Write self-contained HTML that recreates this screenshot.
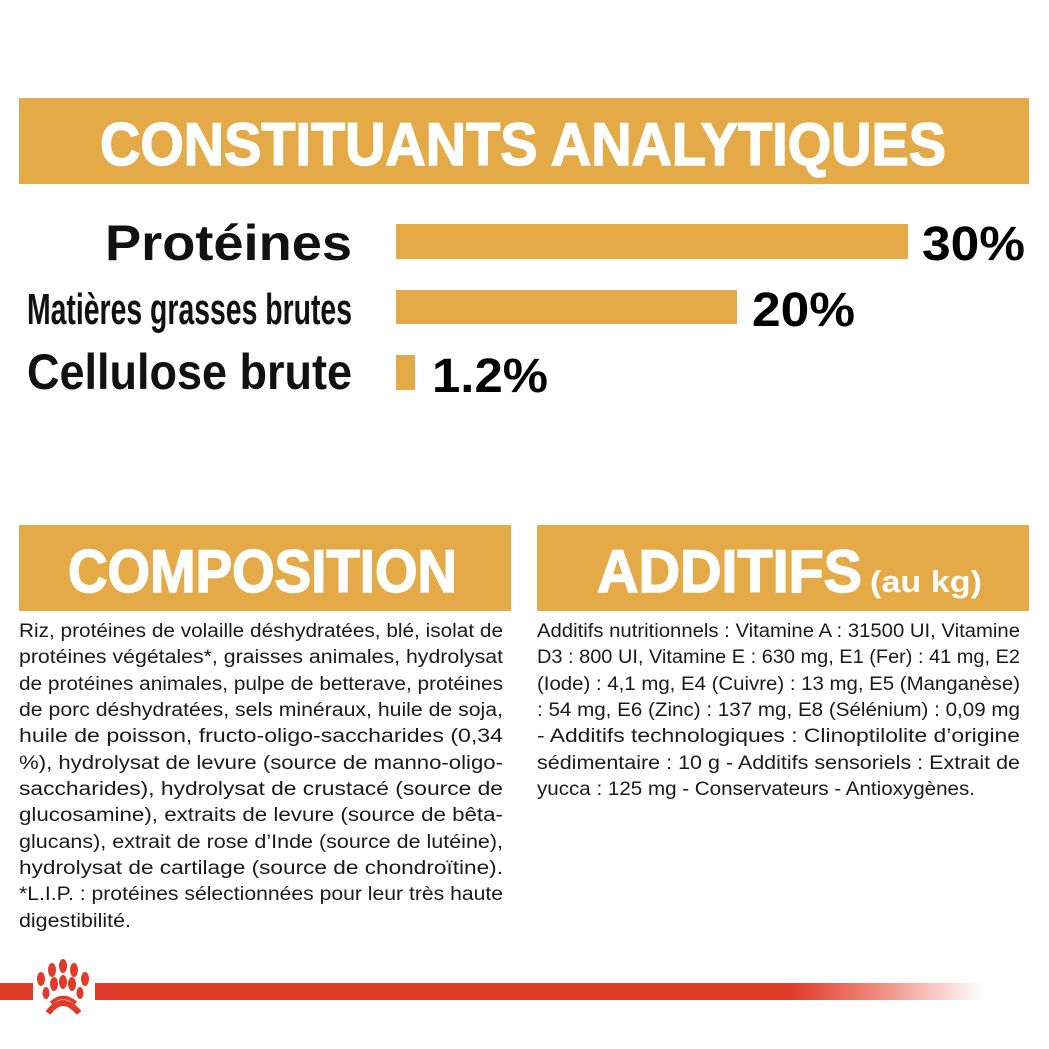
<!DOCTYPE html>
<html><head><meta charset="utf-8"><style>
html,body{margin:0;padding:0;background:#fff;}
svg{display:block}
</style></head><body>
<svg width="1049" height="1049" viewBox="0 0 1049 1049" xmlns="http://www.w3.org/2000/svg" font-family="Liberation Sans, sans-serif">
<defs>
<linearGradient id="fade" x1="0" x2="1" y1="0" y2="0">
<stop offset="0" stop-color="#e03a28"/>
<stop offset="0.78" stop-color="#e03a28"/>
<stop offset="0.88" stop-color="#f08b80"/>
<stop offset="1" stop-color="#ffffff"/>
</linearGradient>
</defs>
<rect x="19" y="98" width="1010" height="86" fill="#e3aa47"/>
<text x="100" y="165" font-size="60" font-weight="bold" fill="#fff" stroke="#fff" stroke-width="1.5" textLength="846" lengthAdjust="spacingAndGlyphs">CONSTITUANTS ANALYTIQUES</text>

<text x="105" y="260" font-size="50" font-weight="bold" fill="#111" textLength="247" lengthAdjust="spacingAndGlyphs">Protéines</text>
<text x="27" y="324" font-size="44" font-weight="bold" fill="#111" textLength="325" lengthAdjust="spacingAndGlyphs">Matières grasses brutes</text>
<text x="27" y="389" font-size="50" font-weight="bold" fill="#111" textLength="325" lengthAdjust="spacingAndGlyphs">Cellulose brute</text>

<rect x="396" y="224" width="512" height="35" fill="#e3aa47"/>
<rect x="396" y="290" width="341" height="34" fill="#e3aa47"/>
<rect x="396" y="355" width="19" height="35" fill="#e3aa47"/>
<text x="922" y="260" font-size="48" font-weight="bold" fill="#000" textLength="103" lengthAdjust="spacingAndGlyphs">30%</text>
<text x="752" y="326" font-size="48" font-weight="bold" fill="#000" textLength="103" lengthAdjust="spacingAndGlyphs">20%</text>
<text x="432" y="392" font-size="48" font-weight="bold" fill="#000" textLength="116" lengthAdjust="spacingAndGlyphs">1.2%</text>

<rect x="19" y="525" width="492" height="86" fill="#e3aa47"/>
<text x="68" y="592" font-size="60" font-weight="bold" fill="#fff" stroke="#fff" stroke-width="1.5" textLength="389" lengthAdjust="spacingAndGlyphs">COMPOSITION</text>
<rect x="537" y="525" width="492" height="86" fill="#e3aa47"/>
<text x="597" y="592" font-size="60" font-weight="bold" fill="#fff" stroke="#fff" stroke-width="1.5" textLength="265" lengthAdjust="spacingAndGlyphs">ADDITIFS</text>
<text x="870" y="592" font-size="31" font-weight="bold" fill="#fff" textLength="112" lengthAdjust="spacingAndGlyphs">(au kg)</text>

<g font-size="19" fill="#1a1a1a">
<text x="19" y="637" textLength="484" lengthAdjust="spacingAndGlyphs">Riz, protéines de volaille déshydratées, blé, isolat de</text>
<text x="19" y="663" textLength="484" lengthAdjust="spacingAndGlyphs">protéines végétales*, graisses animales, hydrolysat</text>
<text x="19" y="690" textLength="484" lengthAdjust="spacingAndGlyphs">de protéines animales, pulpe de betterave, protéines</text>
<text x="19" y="716" textLength="484" lengthAdjust="spacingAndGlyphs">de porc déshydratées, sels minéraux, huile de soja,</text>
<text x="19" y="742" textLength="484" lengthAdjust="spacingAndGlyphs">huile de poisson, fructo-oligo-saccharides (0,34</text>
<text x="19" y="769" textLength="484" lengthAdjust="spacingAndGlyphs">%), hydrolysat de levure (source de manno-oligo-</text>
<text x="19" y="795" textLength="484" lengthAdjust="spacingAndGlyphs">saccharides), hydrolysat de crustacé (source de</text>
<text x="19" y="821" textLength="484" lengthAdjust="spacingAndGlyphs">glucosamine), extraits de levure (source de bêta-</text>
<text x="19" y="848" textLength="484" lengthAdjust="spacingAndGlyphs">glucans), extrait de rose d’Inde (source de lutéine),</text>
<text x="19" y="874" textLength="484" lengthAdjust="spacingAndGlyphs">hydrolysat de cartilage (source de chondroïtine).</text>
<text x="19" y="900" textLength="484" lengthAdjust="spacingAndGlyphs">*L.I.P. : protéines sélectionnées pour leur très haute</text>
<text x="19" y="927" textLength="112" lengthAdjust="spacingAndGlyphs">digestibilité.</text>

<text x="537" y="637" textLength="483" lengthAdjust="spacingAndGlyphs">Additifs nutritionnels : Vitamine A : 31500 UI, Vitamine</text>
<text x="537" y="663" textLength="483" lengthAdjust="spacingAndGlyphs">D3 : 800 UI, Vitamine E : 630 mg, E1 (Fer) : 41 mg, E2</text>
<text x="537" y="690" textLength="483" lengthAdjust="spacingAndGlyphs">(Iode) : 4,1 mg, E4 (Cuivre) : 13 mg, E5 (Manganèse)</text>
<text x="537" y="716" textLength="483" lengthAdjust="spacingAndGlyphs">: 54 mg, E6 (Zinc) : 137 mg, E8 (Sélénium) : 0,09 mg</text>
<text x="537" y="742" textLength="483" lengthAdjust="spacingAndGlyphs">- Additifs technologiques : Clinoptilolite d’origine</text>
<text x="537" y="769" textLength="483" lengthAdjust="spacingAndGlyphs">sédimentaire : 10 g - Additifs sensoriels : Extrait de</text>
<text x="537" y="795" textLength="438" lengthAdjust="spacingAndGlyphs">yucca : 125 mg - Conservateurs - Antioxygènes.</text>
</g>

<rect x="0" y="983" width="33" height="17" fill="#e03a28"/>
<rect x="95" y="983" width="890" height="17" fill="url(#fade)"/>
<g fill="#e03a28">
<ellipse cx="63" cy="966" rx="4" ry="7"/>
<ellipse cx="52" cy="970" rx="4" ry="7"/>
<ellipse cx="74" cy="970" rx="4" ry="7"/>
<ellipse cx="41" cy="979" rx="4" ry="7"/>
<ellipse cx="85" cy="979" rx="4" ry="7"/>
<ellipse cx="54" cy="984" rx="4" ry="7"/>
<ellipse cx="63" cy="982" rx="4" ry="7"/>
<ellipse cx="72" cy="984" rx="4" ry="7"/>
<ellipse cx="46" cy="993" rx="3.5" ry="6"/>
<ellipse cx="80" cy="993" rx="3.5" ry="6"/>
</g>
<path d="M48 1013 Q63 993 79 1013" stroke="#e03a28" stroke-width="6" fill="none"/>
<path d="M51 1003 Q63 992 76 1003" stroke="#e03a28" stroke-width="3.5" fill="none"/>
</svg>
</body></html>
